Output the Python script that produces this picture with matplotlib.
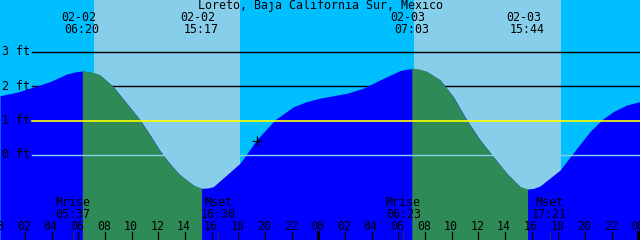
import matplotlib
matplotlib.use('Agg')
import matplotlib.pyplot as plt
import numpy as np

# 潮汐数据：从 02-02 00:00 起算的小时数，高度单位 ft
hours = [0.125, 1.375, 2.63, 3.88, 5.13, 5.75, 6.333, 6.88, 7.25, 7.63, 8.63, 9.63,
         10.63, 11.38, 12.13, 12.9, 13.63, 14.6, 14.95, 15.283, 15.7, 16.13, 17.13, 18.13, 19.38,
         20.75, 22.13, 23.13, 24.13, 26.13, 27.38, 28.63, 30.13, 30.6, 31.05, 31.6, 32.13,
         33.13, 34.13, 35.13, 36.13, 37.13, 38.13, 39.13, 39.45, 39.733, 40.15, 40.63, 42.13,
         43.38, 44.38, 45.26, 46.13, 47.13, 48.13]
heights = [1.72, 1.82, 1.97, 2.13, 2.35, 2.41, 2.44, 2.40, 2.37, 2.32, 1.98, 1.50,
           1.02, 0.58, 0.12, -0.27, -0.58, -0.87, -0.94, -0.97, -0.96, -0.92, -0.58, -0.24, 0.44,
           1.02, 1.40, 1.55, 1.65, 1.79, 1.94, 2.18, 2.45, 2.49, 2.51, 2.48, 2.42,
           2.18, 1.69, 1.02, 0.44, -0.05, -0.53, -0.92, -0.97, -0.99, -0.97, -0.90, -0.44,
           0.19, 0.68, 1.02, 1.26, 1.45, 1.55]

# 高低潮事件
event_hours = [6.333, 15.283, 31.05, 39.733]
event_dates = ['02-02', '02-02', '02-03', '02-03']
event_times = ['06:20', '15:17', '07:03', '15:44']

# 日出日落
sunrise = [7.2, 31.18]
sunset = [18.13, 42.2]

# 月出月落
moon_hours = [5.617, 16.5, 30.383, 41.35]
moon_names = ['Mrise', 'Mset', 'Mrise', 'Mset']
moon_times = ['05:37', '16:30', '06:23', '17:21']

levels = [3, 2, 1, 0]
level_labels = ['3 ft', '2 ft', '1 ft', '0 ft']
hour_ticks = list(range(0, 50, 2))

title = 'Loreto, Baja California Sur, Mexico'

plt.rcParams['font.family'] = ['DejaVu Sans Mono']
plt.rcParams['font.size'] = 8.4

fig = plt.figure(figsize=(6.4, 2.4), dpi=100, facecolor='#00BFFF')
ax = fig.add_axes([0, 0, 1, 1])
ax.set_xlim(0.125, 48.13)
ax.set_ylim(-2.47, 4.5)
ax.set_axis_off()


def py(px):
    # 像素行 -> 坐标轴比例
    return 1 - px / 240.0


# 白天背景
for a, b in zip(sunrise, sunset):
    ax.axvspan(a, b, color='#87CEEB', lw=0, zorder=0)

# 3 ft, 2 ft 参考线 (在曲线之后)
for lv in levels[:2]:
    ax.axhline(lv, xmin=32 / 640, color='black', lw=1.0, zorder=1)

# 涨潮蓝色 / 落潮绿色
h = np.array(hours)
v = np.array(heights)
d = np.diff(v)
falling = np.zeros(len(v), dtype=bool)
falling[:-1] |= d < 0
falling[1:] |= d < 0
falling[1:-1] &= ~((d[:-1] > 0) & (d[1:] > 0))
ax.fill_between(h, v, -2.47, color='#0000FF', lw=0, zorder=2)
ax.fill_between(h, v, -2.47, where=falling, color='#2E8B57', lw=0, zorder=3)

# 1 ft 黄线, 0 ft 线
ax.axhline(1, xmin=32 / 640, color='#FFFF00', lw=1.2, zorder=4)
ax.axhline(0, xmin=32 / 640, color='#87CEEB', lw=1.0, zorder=4)

for lv, lab in zip(levels, level_labels):
    ax.text(2 / 640, lv, lab, transform=ax.get_yaxis_transform(),
            ha='left', va='center', zorder=6)

# 当前时刻标记
ax.plot([19.38], [0.41], marker='+', color='black', ms=7, mew=0.9, zorder=6)

# 标题和事件
ax.text(0.5, py(9.5), title, transform=ax.transAxes, ha='center', va='baseline', zorder=6)
tr = ax.get_xaxis_transform()
for eh, ed, et in zip(event_hours, event_dates, event_times):
    ax.text(eh - 0.33, py(21.3), ed, transform=tr, ha='center', va='baseline', zorder=6)
    ax.text(eh - 0.07, py(33.3), et, transform=tr, ha='center', va='baseline', zorder=6)

for mh, mn, mt in zip(moon_hours, moon_names, moon_times):
    ax.text(mh, py(206), mn, transform=tr, ha='center', va='baseline', zorder=6)
    ax.text(mh, py(217.5), mt, transform=tr, ha='center', va='baseline', zorder=6)
    ax.plot([mh, mh], [py(232), py(240)], transform=tr, color='#303030', lw=0.7, zorder=5)

# 时间刻度
for t in hour_ticks:
    ax.text(t - 0.07, py(230), '%02d' % (t % 24), transform=tr, ha='center', va='baseline', zorder=6)
    lw = 2.2 if t % 24 == 0 else 0.9
    ax.plot([t, t], [py(232), py(240)], transform=tr, color='black', lw=lw, zorder=5)

plt.savefig('out.png', dpi=100, facecolor=fig.get_facecolor())
